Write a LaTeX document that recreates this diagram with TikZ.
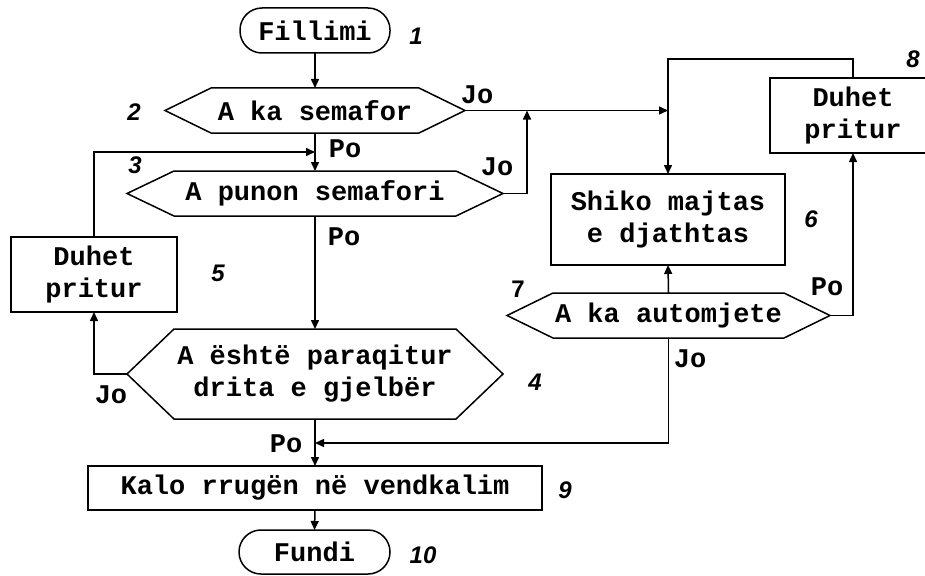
\documentclass[tikz,border=0pt]{standalone}
\usepackage{fontspec}
\setmonofont{Liberation Mono}
\newfontfamily\numfont{Liberation Sans}
\usetikzlibrary{arrows.meta}
\newcommand\hexnode[7]{%
  \node[txt, minimum width=#4pt, minimum height=#5pt] (#1) at (#2,#3) {#7};
  \draw (#1.west) -- ([xshift=#6pt]#1.north west) -- ([xshift=-#6pt]#1.north east) -- (#1.east) -- ([xshift=-#6pt]#1.south east) -- ([xshift=#6pt]#1.south west) -- cycle;
}
\tikzset{
  txt/.style={inner sep=0pt, outer sep=0pt, align=center,
    font=\ttfamily\bfseries\fontsize{27}{32}\selectfont},
  box/.style={txt, draw},
  term/.style={txt, draw, rounded corners=22pt},
  arr/.style={-{Triangle[length=9pt,width=8pt]}},
  lbl/.style={inner sep=0pt, anchor=base, font=\ttfamily\bfseries\fontsize{27}{31}\selectfont},
  num/.style={inner sep=0pt, font=\numfont\bfseries\itshape\fontsize{24}{28}\selectfont},
  numup/.style={inner sep=0pt, font=\numfont\bfseries\fontsize{24}{28}\selectfont},
}
\begin{document}
\begin{tikzpicture}[x=1pt, y=-1pt, line width=1.5pt]
\useasboundingbox (0,0) rectangle (925,575);
% nodes
\node[term, minimum width=150pt, minimum height=45pt] (fil) at (315,30.5) {Fillimi};
\hexnode{h1}{315}{110.5}{300}{45}{46}{A ka semafor}
\hexnode{h2}{315}{193.5}{376}{45}{47}{A punon semafori}
\hexnode{h3}{315}{374}{376}{90}{47}{A është paraqitur\\drita e gjelbër}
\hexnode{h4}{668.5}{315.5}{323}{45}{46}{A ka automjete}
\node[box, minimum width=166pt, minimum height=75pt] (b5) at (94,274.5) {Duhet\\pritur};
\node[box, minimum width=166pt, minimum height=75pt] (b8) at (853,115.5) {Duhet\\pritur};
\node[box, minimum width=234pt, minimum height=91pt] (shiko) at (668,219.5) {Shiko majtas\\e djathtas};
\node[box, minimum width=454pt, minimum height=44pt] (kalo) at (315,488) {Kalo rrugën në vendkalim};
\node[term, minimum width=151pt, minimum height=44pt] (fun) at (314.5,552) {Fundi};
% coordinates
\coordinate (t8) at (853,59);
\coordinate (m) at (315,443);
\coordinate (c1) at (527,110.5);
\coordinate (c2) at (315,152);
% connectors
\draw[arr] (fil.south) -- (h1.north);
\draw[arr] (h1.south) -- (h2.north);
\draw[arr] (h1.east) -- (h1.east -| shiko.north);
\draw[arr] (b8.north) -- (t8) -| (shiko.north);
\draw[arr] (h4.north) -- (shiko.south);
\draw[arr] (h4.east) -| (b8.south);
\draw[arr] (h4.south) |- (m);
\draw[arr] (h2.south) -- (h3.north);
\draw[arr] (h2.east) -| (c1);
\draw[arr] (h3.west) -| (b5.south);
\draw[arr] (b5.north) |- (c2);
\draw[arr] (h3.south) -- (kalo.north);
\draw[arr] (kalo.south) -- (fun.north);
% branch labels
\node[lbl] (l1) at (477,103) {Jo};
\node[lbl] (l2) at (345,157) {Po};
\node[lbl] (l3) at (497,175) {Jo};
\node[lbl] (l4) at (344,245) {Po};
\node[lbl] (l5) at (111,403) {Jo};
\node[lbl] (l6) at (286,452) {Po};
\node[lbl] (l7) at (827,295) {Po};
\node[lbl] (l8) at (690,367) {Jo};
% numbers
\node[num] (n1) at (416,36) {1};
\node[num] (n2) at (134,112) {2};
\node[num] (n3) at (135,165) {3};
\node[num] (n4) at (535,382) {4};
\node[num] (n5) at (218,273) {5};
\node[num] (n6) at (811,219) {6};
\node[numup] (n7) at (518,289) {7};
\node[num] (n8) at (913,59) {8};
\node[num] (n9) at (565,490) {9};
\node[num] (n10) at (423,555) {10};
\end{tikzpicture}
\end{document}
